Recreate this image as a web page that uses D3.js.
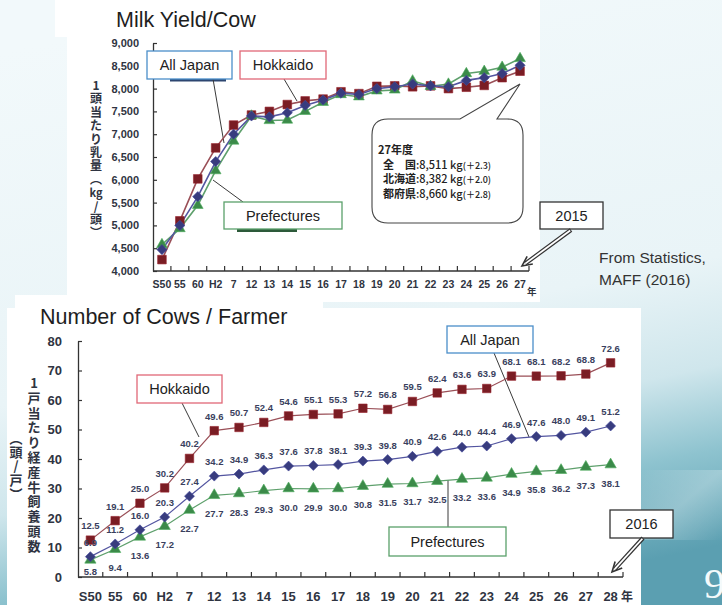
<!DOCTYPE html>
<html>
<head>
<meta charset="utf-8">
<script src="https://cdn.jsdelivr.net/npm/d3@7"></script>
<style>
  html, body { margin: 0; padding: 0; overflow: hidden; background: #eef7fa; }
  svg { display: block; }
</style>
</head>
<body>
<svg id="chart" width="722" height="605"></svg>
<script>
// ---- Milk yield per cow (kg/head), fiscal years S50 – H27 ----
const milkYears = ["S50", "55", "60", "H2", "7", "12", "13", "14", "15", "16", "17", "18", "19", "20", "21", "22", "23", "24", "25", "26", "27"];
const milkAllJapan    = [4470, 5000, 5630, 6400, 7000, 7400, 7380, 7470, 7630, 7750, 7900, 7870, 8000, 8040, 8100, 8060, 8040, 8180, 8240, 8330, 8511];
const milkHokkaido    = [4250, 5100, 6020, 6700, 7200, 7420, 7500, 7650, 7730, 7770, 7930, 7890, 8050, 8060, 8040, 8060, 8000, 8030, 8070, 8240, 8382];
const milkPrefectures = [4580, 4930, 5440, 6200, 6850, 7400, 7300, 7310, 7500, 7700, 7870, 7820, 7950, 7970, 8170, 8050, 8100, 8330, 8380, 8470, 8660];
const milkTicks = [4000, 4500, 5000, 5500, 6000, 6500, 7000, 7500, 8000, 8500, 9000];

// ---- Milking cows per farm household, S50 – H28 ----
const cowYears = ["S50", "55", "60", "H2", "7", "12", "13", "14", "15", "16", "17", "18", "19", "20", "21", "22", "23", "24", "25", "26", "27", "28"];
const cowsAllJapan    = [6.9, 11.2, 16.0, 20.3, 27.4, 34.2, 34.9, 36.3, 37.6, 37.8, 38.1, 39.3, 39.8, 40.9, 42.6, 44.0, 44.4, 46.9, 47.6, 48.0, 49.1, 51.2];
const cowsHokkaido    = [12.5, 19.1, 25.0, 30.2, 40.2, 49.6, 50.7, 52.4, 54.6, 55.1, 55.3, 57.2, 56.8, 59.5, 62.4, 63.6, 63.9, 68.1, 68.1, 68.2, 68.8, 72.6];
const cowsPrefectures = [5.8, 9.4, 13.6, 17.2, 22.7, 27.7, 28.3, 29.3, 30.0, 29.9, 30.0, 30.8, 31.5, 31.7, 32.5, 33.2, 33.6, 34.9, 35.8, 36.2, 37.3, 38.1];
const cowTicks = [0, 10, 20, 30, 40, 50, 60, 70, 80];

// ---- Text ----
const milkTitle = "Milk Yield/Cow";
const cowTitle = "Number of Cows / Farmer";
const milkYLabel = ["1", "頭", "当", "た", "り", "乳", "量", "︵", "kg", "/", "頭", "︶"];
const cowYLabelMain = ["1", "戸", "当", "た", "り", "経", "産", "牛", "飼", "養", "頭", "数"];
const cowYLabelUnit = ["︵", "頭", "/", "戸", "︶"];
const bubbleLines = [
  { head: "27年度", body: "", note: "" },
  { head: "全　国", body: ":8,511 kg", note: "(＋2.3)" },
  { head: "北海道", body: ":8,382 kg", note: "(＋2.0)" },
  { head: "都府県", body: ":8,660 kg", note: "(＋2.8)" }
];
const sourceLines = ["From Statistics,", "MAFF (2016)"];

const SANS = "'Liberation Sans', Arial, sans-serif";
const JP = "'Noto Sans CJK JP', 'Noto Sans', sans-serif";

const COL = {
  hokkaido: { marker: "#7a1d24", line: "#9a4f57" },
  japan:    { marker: "#383c7e", line: "#5355a0" },
  pref:     { marker: "#3b8a49", line: "#5ea06c" }
};

const svg = d3.select("#chart");
const defs = svg.append("defs");

// ---- Slide background ----
const bg = defs.append("linearGradient").attr("id", "bgGrad")
  .attr("x1", 0.35).attr("y1", 0).attr("x2", 0.6).attr("y2", 1);
[[0, "#f2f9fb"], [0.55, "#e9f4f7"], [0.72, "#cfe6ec"], [0.85, "#8ec3cf"], [1, "#5b9fb1"]]
  .forEach(([o, c]) => bg.append("stop").attr("offset", o).attr("stop-color", c));
svg.append("rect").attr("width", 722).attr("height", 605).attr("fill", "url(#bgGrad)");

const streak = defs.append("linearGradient").attr("id", "streak")
  .attr("x1", 0).attr("y1", 0).attr("x2", 1).attr("y2", 1);
[[0, "#ffffff", 0], [0.5, "#ffffff", 0.25], [1, "#ffffff", 0]]
  .forEach(([o, c, a]) => streak.append("stop").attr("offset", o).attr("stop-color", c).attr("stop-opacity", a));
svg.append("rect").attr("x", 640).attr("y", 470).attr("width", 82).attr("height", 70).attr("fill", "url(#streak)");

// ---- White panels ----
svg.append("rect").attr("x", 55).attr("y", 0).attr("width", 485).attr("height", 37).attr("fill", "#fff");
svg.append("rect").attr("x", 67).attr("y", 0).attr("width", 473).attr("height", 302).attr("fill", "#fff");
svg.append("rect").attr("x", 15).attr("y", 295).attr("width", 308).attr("height", 20).attr("fill", "#fff");
svg.append("rect").attr("x", 7).attr("y", 308).attr("width", 634).attr("height", 297).attr("fill", "#fff");

// Page number (runs off the slide edge)
svg.append("text").attr("x", 704).attr("y", 598)
  .attr("font-family", "'Liberation Serif', 'DejaVu Serif', serif").attr("font-size", 42)
  .attr("fill", "#f4fafb").text("9");

// ---- Generic line chart panel ----
function drawPanel(cfg) {
  const g = svg.append("g");
  const x = d3.scaleBand().domain(cfg.cats).range([cfg.x0, cfg.x1]).padding(0);
  const y = d3.scaleLinear().domain(cfg.yDomain).range([cfg.yBottom, cfg.yTop]);
  const cx = i => x(cfg.cats[i]) + x.bandwidth() / 2;

  // y axis, ticks pointing inward
  const yAxis = d3.axisLeft(y).tickValues(cfg.yTicks).tickSizeInner(-4).tickSizeOuter(0)
    .tickPadding(cfg.yPad).tickFormat(cfg.yFormat);
  const ya = g.append("g").attr("transform", `translate(${cfg.x0},0)`).call(yAxis);
  ya.select(".domain").attr("stroke", "#333").attr("stroke-width", 1.3);
  ya.selectAll(".tick line").attr("stroke", "#333").attr("stroke-width", 1.2);
  ya.selectAll(".tick text").attr("font-family", SANS).attr("font-weight", "bold")
    .attr("font-size", cfg.yFont).attr("fill", "#2f3441");

  // x axis: baseline with ticks at category boundaries
  g.append("line").attr("x1", cfg.x0).attr("x2", cfg.x1)
    .attr("y1", cfg.yBottom).attr("y2", cfg.yBottom)
    .attr("stroke", "#333").attr("stroke-width", 1.3);
  const edges = cfg.cats.slice(1).map(c => x(c)).concat([cfg.x1]);
  g.selectAll(".xtick").data(edges).enter().append("line")
    .attr("x1", d => d).attr("x2", d => d)
    .attr("y1", cfg.yBottom).attr("y2", cfg.yBottom - 5)
    .attr("stroke", "#333").attr("stroke-width", 1.2);
  g.selectAll(".xlab").data(cfg.cats).enter().append("text")
    .attr("x", (d, i) => cx(i)).attr("y", cfg.xLabelY)
    .attr("text-anchor", "middle").attr("font-family", SANS).attr("font-weight", "bold")
    .attr("font-size", cfg.xFont).attr("fill", "#2f3441").text(d => d);
  g.append("text").attr("x", cfg.x1 - 2).attr("y", cfg.nenY)
    .attr("font-family", JP).attr("font-weight", "bold").attr("font-size", cfg.xFont - 1)
    .attr("fill", "#2f3441").text("年");

  // series
  const line = d3.line().x((d, i) => cx(i)).y(d => y(d));
  cfg.series.forEach(s => {
    g.append("path").datum(s.values).attr("d", line)
      .attr("fill", "none").attr("stroke", s.color.line).attr("stroke-width", cfg.lineWidth);
  });
  cfg.series.forEach(s => {
    const sym = d3.symbol().type(s.type).size(s.size);
    g.selectAll(null).data(s.values).enter().append("path")
      .attr("d", sym)
      .attr("transform", (d, i) => `translate(${cx(i)},${y(d)})` + (s.rotate ? " rotate(45)" : ""))
      .attr("fill", s.color.marker)
      .attr("stroke", d3.color(s.color.marker).brighter(0.6)).attr("stroke-width", 0.6);
  });

  // value labels
  cfg.series.filter(s => s.labels).forEach(s => {
    g.selectAll(null).data(s.values).enter().append("text")
      .attr("x", (d, i) => cx(i))
      .attr("y", d => s.labels === "above" ? y(d) - 11 : Math.min(y(d) + 22, cfg.yBottom - 2))
      .attr("text-anchor", "middle").attr("font-family", SANS).attr("font-weight", "bold")
      .attr("font-size", 9.5).attr("fill", "#3a3f5e")
      .text(d => d3.format(".1f")(d));
  });
  return { x, y };
}

// ---- Callout helpers ----
function box(x, y, w, h, stroke, label, fs) {
  svg.append("rect").attr("x", x).attr("y", y).attr("width", w).attr("height", h)
    .attr("fill", "#fff").attr("stroke", stroke).attr("stroke-width", 1.3);
  svg.append("text").attr("x", x + w / 2).attr("y", y + h / 2 + fs * 0.36)
    .attr("text-anchor", "middle").attr("font-family", SANS).attr("font-size", fs)
    .attr("fill", "#222").text(label);
}
function leader(x1, y1, x2, y2) {
  svg.append("line").attr("x1", x1).attr("y1", y1).attr("x2", x2).attr("y2", y2)
    .attr("stroke", "#3a3a3a").attr("stroke-width", 1);
}
function doubleArrow(x1, y1, x2, y2) {
  const a = Math.atan2(y2 - y1, x2 - x1);
  const ex = x2 - Math.cos(a) * 4, ey = y2 - Math.sin(a) * 4;
  svg.append("line").attr("x1", x1).attr("y1", y1).attr("x2", ex).attr("y2", ey)
    .attr("stroke", "#333").attr("stroke-width", 4.2);
  svg.append("line").attr("x1", x1 + Math.cos(a)).attr("y1", y1 + Math.sin(a)).attr("x2", ex).attr("y2", ey)
    .attr("stroke", "#fff").attr("stroke-width", 1.8);
  const L = 11, w = 0.45;
  const p = d3.path();
  p.moveTo(x2 - L * Math.cos(a - w), y2 - L * Math.sin(a - w));
  p.lineTo(x2, y2);
  p.lineTo(x2 - L * Math.cos(a + w), y2 - L * Math.sin(a + w));
  svg.append("path").attr("d", p.toString()).attr("fill", "none")
    .attr("stroke", "#333").attr("stroke-width", 1.6);
}
// Stacked (tategaki-style) axis title: one text element, one tspan per glyph
function verticalLabel(chars, x, y0, step, fs) {
  const t = svg.append("text").attr("text-anchor", "middle").attr("font-family", JP)
    .attr("font-weight", "bold").attr("font-size", fs).attr("fill", "#2f3441");
  t.selectAll("tspan").data(chars).enter().append("tspan")
    .attr("x", x).attr("y", (d, i) => y0 + i * step)
    .attr("font-size", d => d.length > 1 ? fs - 1 : fs).text(d => d);
}

// =================== Top: milk yield ===================
svg.append("text").attr("x", 116).attr("y", 27).attr("font-family", SANS)
  .attr("font-size", 21.5).attr("fill", "#1e1e1e").text(milkTitle);

verticalLabel(milkYLabel, 96, 90, 13.4, 12);

// callout leaders and edge strips, beneath the data
svg.append("rect").attr("x", 170).attr("y", 79).attr("width", 56).attr("height", 2.5).attr("fill", "#2d4670");
svg.append("rect").attr("x", 237).attr("y", 229).attr("width", 60).attr("height", 3).attr("fill", "#2d5a3a");
leader(213, 79, 224, 143);
leader(284, 79, 297, 101);
leader(243, 202, 213, 180);

drawPanel({
  cats: milkYears, x0: 153, x1: 529, yBottom: 271, yTop: 43,
  yDomain: [4000, 9000], yTicks: milkTicks, yPad: 14, yFormat: d3.format(","), yFont: 11,
  xLabelY: 288, xFont: 10.5, nenY: 295, lineWidth: 1.6,
  series: [
    { values: milkHokkaido, color: COL.hokkaido, type: d3.symbolSquare, size: 75 },
    { values: milkPrefectures, color: COL.pref, type: d3.symbolTriangle, size: 50 },
    { values: milkAllJapan, color: COL.japan, type: d3.symbolSquare, size: 52, rotate: true }
  ]
});

box(147, 51, 85, 28, "#4b8ec9", "All Japan", 14.5);
box(240, 51, 86, 28, "#e06877", "Hokkaido", 14.5);
box(224, 202, 118, 27, "#5aa06a", "Prefectures", 14.5);

// speech bubble with FY27 figures
(function () {
  const l = 372, r = 523, t = 119, b = 223, rad = 16;
  const p = d3.path();
  p.moveTo(l + rad, t);
  p.lineTo(460, t);
  p.lineTo(520, 84);
  p.lineTo(497, t);
  p.lineTo(r - rad, t);
  p.quadraticCurveTo(r, t, r, t + rad);
  p.lineTo(r, b - rad);
  p.quadraticCurveTo(r, b, r - rad, b);
  p.lineTo(l + rad, b);
  p.quadraticCurveTo(l, b, l, b - rad);
  p.lineTo(l, t + rad);
  p.quadraticCurveTo(l, t, l + rad, t);
  p.closePath();
  svg.append("path").attr("d", p.toString()).attr("fill", "#fff")
    .attr("stroke", "#444").attr("stroke-width", 1.1);
  const tg = svg.append("g").attr("font-family", JP).attr("fill", "#222");
  bubbleLines.forEach((ln, i) => {
    const t = tg.append("text").attr("x", i === 0 ? 378 : 383).attr("y", 154 + i * 14.5)
      .attr("font-size", 11).attr("font-weight", "bold");
    t.append("tspan").text(ln.head);
    if (ln.body) t.append("tspan").attr("font-weight", 500).text(ln.body);
    if (ln.note) t.append("tspan").attr("font-weight", 500).attr("font-size", 9).text(ln.note);
  });
})();

box(540, 202, 63, 27, "#333", "2015", 14.5);
doubleArrow(571, 230, 522, 266);

svg.append("g").attr("font-family", SANS).attr("font-size", 15.5).attr("fill", "#333")
  .selectAll("text").data(sourceLines).enter().append("text")
  .attr("x", 599).attr("y", (d, i) => 263 + i * 22).text(d => d);

// =================== Bottom: cows per farmer ===================
svg.append("text").attr("x", 40).attr("y", 324).attr("font-family", SANS)
  .attr("font-size", 21.5).attr("fill", "#1e1e1e").text(cowTitle);

verticalLabel(cowYLabelMain, 34, 388, 14.8, 13);
verticalLabel(cowYLabelUnit, 16, 443, 14, 13);

leader(182, 403, 199, 437);
leader(494, 353, 529, 437);
leader(448, 527, 448, 480);

drawPanel({
  cats: cowYears, x0: 78, x1: 623, yBottom: 577, yTop: 341,
  yDomain: [0, 80], yTicks: cowTicks, yPad: 16, yFormat: d3.format("d"), yFont: 13,
  xLabelY: 601, xFont: 13, nenY: 601, lineWidth: 1.2,
  series: [
    { values: cowsHokkaido, color: COL.hokkaido, type: d3.symbolSquare, size: 72, labels: "above" },
    { values: cowsPrefectures, color: COL.pref, type: d3.symbolTriangle, size: 55, labels: "below" },
    { values: cowsAllJapan, color: COL.japan, type: d3.symbolSquare, size: 50, rotate: true, labels: "above" }
  ]
});

box(137, 375, 85, 28, "#e06877", "Hokkaido", 14.5);
box(447, 326, 86, 27, "#4b8ec9", "All Japan", 14.5);
box(389, 527, 117, 29, "#5aa06a", "Prefectures", 14.5);
box(610, 510, 63, 28, "#333", "2016", 14.5);
doubleArrow(643, 538, 612, 572);
</script>
</body>
</html>
